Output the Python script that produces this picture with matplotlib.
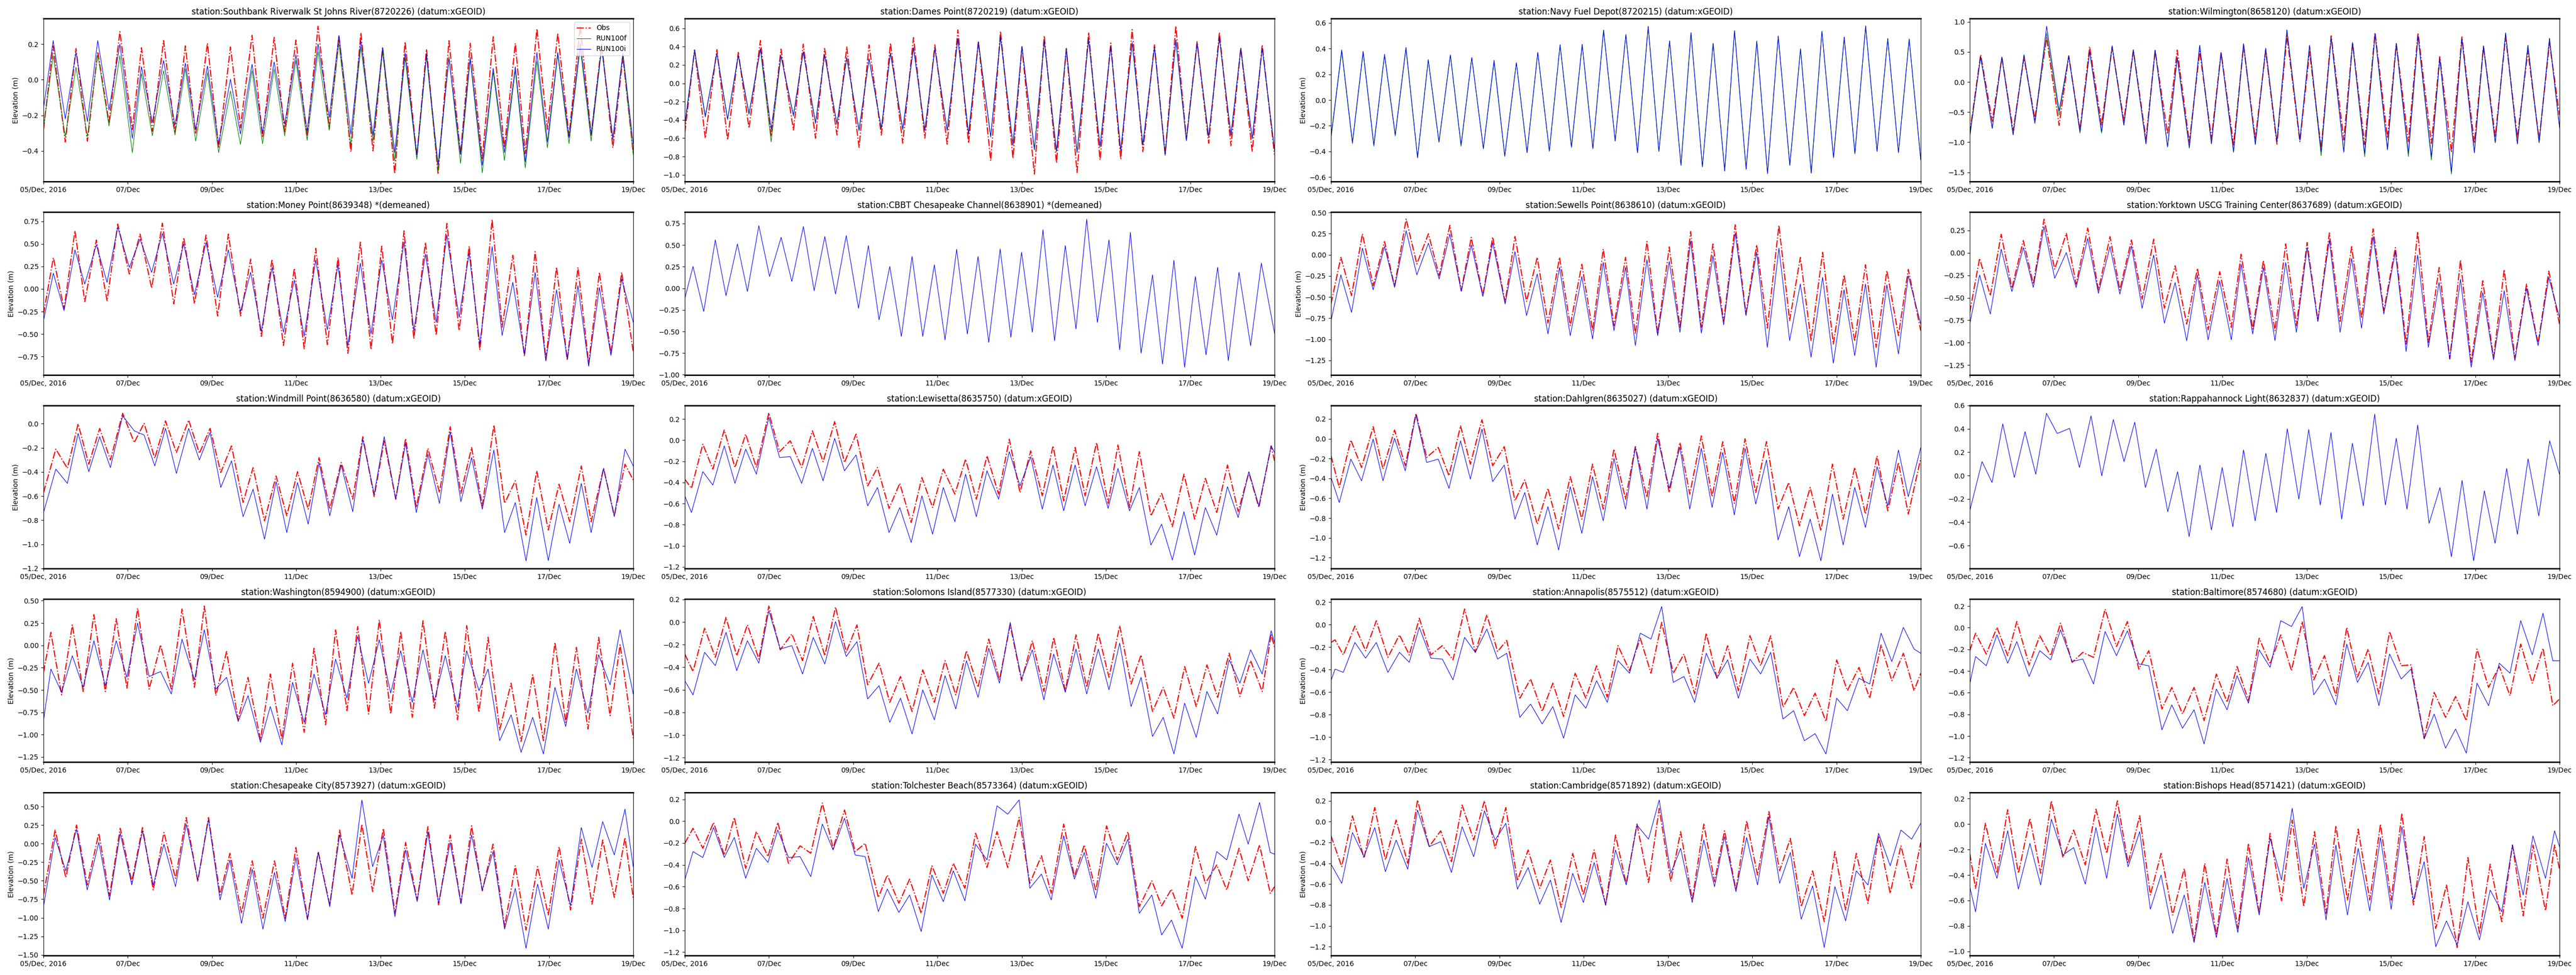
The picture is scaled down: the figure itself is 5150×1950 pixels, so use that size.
#!/usr/bin/python3
# -*- coding: UTF-8 -*-

import numpy as np
import pandas as pd
import matplotlib
matplotlib.use('Agg')
import matplotlib.pyplot as plt

# ---------------------------------------------------------------------------
# Data: tide extremes (highs/lows), hours after
# 05/Dec/2016 00:00.  obs = Obs, f = RUN100f, i = RUN100i
# ---------------------------------------------------------------------------
start_date = pd.Timestamp('2016-12-05')
tick_dates = ['2016-12-05', '2016-12-07', '2016-12-09', '2016-12-11',
              '2016-12-13', '2016-12-15', '2016-12-17', '2016-12-19']
tick_labels = ['05/Dec, 2016', '07/Dec', '09/Dec', '11/Dec', '13/Dec',
               '15/Dec', '17/Dec', '19/Dec']

# Southbank Riverwalk St Johns River
sb_t = [0, 5.5, 12.4, 18.5, 25.0, 30.9, 37.3, 43.5, 50.6, 55.8, 62.0, 68.4, 74.9, 80.8, 86.7,
        93.4, 99.8, 106.5, 112.2, 118.8, 124.8, 131.4, 137.4, 143.8, 150.2, 156.4, 162.8,
        168.3, 175.1, 180.8, 187.7, 193.2, 200.1, 206.0, 212.7, 218.2, 224.8, 231.0, 237.6,
        243.1, 250.0, 256.2, 262.6, 268.8, 274.5, 281.1, 287.1, 293.0, 299.4, 305.8, 312.0,
        318.0, 324.4, 330.1, 336]
sb_obs = [-0.28, 0.19, -0.35, 0.175, -0.345, 0.158, -0.24, 0.27, -0.28, 0.18, -0.29, 0.22, -0.30,
          0.19, -0.305, 0.205, -0.385, 0.184, -0.27, 0.25, -0.326, 0.238, -0.293, 0.223, -0.326,
          0.30, -0.275, 0.247, -0.405, 0.263, -0.40, 0.183, -0.528, 0.214, -0.434, 0.172, -0.532,
          0.219, -0.42, 0.205, -0.443, 0.242, -0.382, 0.205, -0.415, 0.287, -0.279, 0.261, -0.316,
          0.303, -0.312, 0.20, -0.382, 0.13, -0.415]
sb_f = [-0.27, 0.135, -0.32, 0.07, -0.32, 0.143, -0.26, 0.135, -0.41, 0.035, -0.315, 0.05, -0.31,
        0.062, -0.345, 0.04, -0.41, -0.063, -0.363, 0.05, -0.36, 0.06, -0.316, 0.108, -0.34,
        0.158, -0.284, 0.203, -0.368, 0.183, -0.345, 0.158, -0.457, 0.125, -0.448, 0.131, -0.509,
        0.13, -0.47, 0.115, -0.523, 0.045, -0.453, 0.054, -0.495, 0.104, -0.382, 0.144, -0.359,
        0.181, -0.345, 0.177, -0.336, 0.144, -0.42]
sb_i = [-0.16, 0.22, -0.22, 0.153, -0.235, 0.22, -0.17, 0.20, -0.33, 0.073, -0.24, 0.108, -0.255,
        0.093, -0.28, 0.077, -0.36, 0.003, -0.305, 0.087, -0.30, 0.10, -0.25, 0.14, -0.288,
        0.202, -0.213, 0.249, -0.307, 0.219, -0.312, 0.181, -0.41, 0.15, -0.424, 0.144, -0.476,
        0.12, -0.42, 0.127, -0.481, 0.064, -0.41, 0.073, -0.462, 0.153, -0.35, 0.153, -0.326,
        0.205, -0.307, 0.186, -0.33, 0.15, -0.36]

# Dames Point
dp_t = [0, 5.6, 11.7, 18.3, 24.4, 30.5, 36.6, 43.1, 49.2, 54.8, 61.9, 67.5, 74.5, 79.7, 86.7,
        92.3, 99.3, 105.0, 112.0, 117.2, 124.2, 130.3, 136.8, 142.5, 149.5, 155.6, 161.7,
        167.3, 174.3, 179.9, 187.0, 192.1, 199.2, 204.8, 211.8, 217.4, 223.5, 230.1, 236.6,
        242.7, 248.4, 254.9, 261.0, 267.6, 273.7, 279.8, 285.8, 291.9, 298.5, 304.6, 311.2,
        316.8, 323.3, 329.0, 336]
dp_obs = [-0.54, 0.364, -0.60, 0.368, -0.62, 0.337, -0.49, 0.468, -0.58, 0.373, -0.51, 0.428, -0.60,
          0.38, -0.565, 0.397, -0.70, 0.419, -0.565, 0.44, -0.655, 0.50, -0.60, 0.42, -0.665,
          0.583, -0.655, 0.459, -0.847, 0.568, -0.82, 0.40, -0.993, 0.519, -0.87, 0.38, -0.975,
          0.556, -0.838, 0.44, -0.83, 0.586, -0.747, 0.42, -0.78, 0.625, -0.61, 0.455, -0.655,
          0.556, -0.683, 0.386, -0.747, 0.42, -0.78]
dp_f = [-0.47, 0.35, -0.37, 0.33, -0.40, 0.30, -0.34, 0.37, -0.64, 0.30, -0.36, 0.34, -0.44,
        0.31, -0.45, 0.28, -0.52, 0.27, -0.50, 0.33, -0.51, 0.39, -0.52, 0.38, -0.52,
        0.48, -0.56, 0.45, -0.59, 0.50, -0.68, 0.40, -0.73, 0.46, -0.75, 0.38, -0.76,
        0.47, -0.70, 0.40, -0.74, 0.44, -0.68, 0.40, -0.79, 0.47, -0.63, 0.44, -0.59,
        0.49, -0.57, 0.38, -0.61, 0.38, -0.73]
dp_i = [-0.45, 0.364, -0.36, 0.33, -0.39, 0.31, -0.33, 0.38, -0.50, 0.30, -0.35, 0.346, -0.43,
        0.31, -0.44, 0.28, -0.51, 0.27, -0.49, 0.33, -0.50, 0.39, -0.51, 0.38, -0.51,
        0.49, -0.55, 0.455, -0.58, 0.51, -0.67, 0.40, -0.72, 0.464, -0.74, 0.38, -0.75,
        0.48, -0.69, 0.40, -0.73, 0.446, -0.67, 0.40, -0.78, 0.474, -0.62, 0.44, -0.58,
        0.50, -0.565, 0.38, -0.60, 0.38, -0.72]

# Navy Fuel Depot
nf_t = [0, 6.1, 12.2, 18.3, 24.4, 30.5, 36.6, 42.7, 49.3, 55.4, 61.5, 68.0, 74.1, 80.2, 86.8,
        92.9, 99.0, 105.6, 111.7, 117.8, 124.4, 130.5, 137.0, 143.1, 149.2, 155.3, 161.9,
        168.0, 174.6, 180.7, 186.8, 192.9, 199.4, 205.1, 211.6, 217.7, 224.3, 229.9, 236.5,
        242.6, 248.7, 254.8, 261.4, 267.5, 273.6, 279.7, 286.3, 292.4, 298.5, 304.6, 311.1,
        317.2, 323.3, 329.4, 336]
nf_f = [-0.30, 0.38, -0.34, 0.37, -0.36, 0.35, -0.28, 0.40, -0.45, 0.31, -0.33, 0.35, -0.36,
        0.33, -0.38, 0.30, -0.44, 0.29, -0.41, 0.37, -0.40, 0.43, -0.37, 0.43, -0.38,
        0.545, -0.32, 0.51, -0.41, 0.575, -0.40, 0.46, -0.51, 0.525, -0.52, 0.44, -0.555,
        0.54, -0.54, 0.46, -0.575, 0.50, -0.51, 0.40, -0.565, 0.535, -0.45, 0.49, -0.42,
        0.578, -0.40, 0.48, -0.41, 0.475, -0.46]
nf_i = [-0.285, 0.39, -0.33, 0.38, -0.35, 0.356, -0.27, 0.41, -0.447, 0.314, -0.324, 0.35, -0.35,
        0.33, -0.376, 0.31, -0.434, 0.29, -0.408, 0.37, -0.395, 0.43, -0.363, 0.434, -0.376,
        0.542, -0.318, 0.508, -0.41, 0.57, -0.40, 0.46, -0.505, 0.522, -0.518, 0.44, -0.55,
        0.538, -0.538, 0.456, -0.57, 0.495, -0.505, 0.395, -0.57, 0.534, -0.447, 0.49, -0.415,
        0.574, -0.40, 0.477, -0.408, 0.473, -0.467]

# Wilmington
wi_t = [0, 6.2, 12.8, 18.3, 24.7, 30.9, 37.1, 43.8, 50.9, 56.4, 62.8, 68.3, 75.1, 81.1, 87.8,
        93.2, 100.4, 105.6, 112.7, 118.2, 125.1, 131.0, 137.7, 143.2, 150.3, 156.0, 162.7,
        168.6, 175.0, 180.7, 188.1, 193.6, 200.2, 205.9, 213.1, 218.1, 225.0, 230.9, 238.0,
        243.0, 249.9, 255.4, 263.0, 267.8, 274.4, 280.4, 287.5, 292.7, 299.4, 305.3, 312.0,
        318.0, 324.4, 330.3, 336]
wi_obs = [-0.85, 0.454, -0.653, 0.407, -0.81, 0.407, -0.617, 0.74, -0.72, 0.435, -0.80, 0.587, -0.714,
          0.573, -0.645, 0.53, -0.95, 0.518, -0.867, 0.53, -1.005, 0.512, -0.936, 0.49, -1.046,
          0.60, -0.95, 0.518, -1.033, 0.767, -0.99, 0.504, -1.116, 0.767, -0.963, 0.648, -1.04,
          0.822, -0.936, 0.637, -0.99, 0.817, -1.02, 0.42, -1.17, 0.748, -1.02, 0.587, -0.914,
          0.753, -0.93, 0.518, -0.963, 0.648, -0.548]
wi_f = [-0.92, 0.42, -0.77, 0.415, -0.88, 0.45, -0.69, 0.81, -0.55, 0.435, -0.85, 0.504, -0.85,
        0.60, -0.72, 0.523, -1.03, 0.53, -1.08, 0.407, -1.10, 0.61, -1.03, 0.49, -1.17,
        0.637, -1.04, 0.56, -1.0, 0.864, -0.97, 0.61, -1.226, 0.74, -1.17, 0.656, -1.24,
        0.795, -1.13, 0.637, -1.24, 0.767, -1.296, 0.40, -1.53, 0.72, -1.18, 0.60, -1.01,
        0.814, -1.03, 0.61, -1.01, 0.725, -0.76]
wi_i = [-0.89, 0.42, -0.77, 0.415, -0.875, 0.45, -0.68, 0.927, -0.48, 0.435, -0.825, 0.504, -0.825,
        0.60, -0.71, 0.523, -1.024, 0.53, -1.074, 0.407, -1.088, 0.61, -1.02, 0.49, -1.157,
        0.637, -1.033, 0.56, -0.99, 0.864, -0.963, 0.61, -1.157, 0.74, -1.157, 0.656, -1.185,
        0.795, -1.116, 0.637, -1.185, 0.767, -1.24, 0.40, -1.49, 0.72, -1.17, 0.60, -1.005,
        0.814, -1.024, 0.61, -1.005, 0.725, -0.742]

# Money Point (demeaned)
mp_t = [0, 5.6, 11.7, 17.9, 23.5, 30.1, 36.2, 42.3, 48.9, 55.0, 61.6, 67.7, 74.2, 79.9, 86.0,
        92.6, 99.2, 105.3, 112.3, 118.0, 124.1, 130.2, 136.7, 142.9, 148.5, 155.1, 161.7,
        167.8, 173.4, 180.5, 186.6, 192.7, 198.8, 205.4, 211.0, 217.6, 223.7, 229.8, 236.8,
        242.5, 248.6, 255.6, 261.3, 267.4, 274.0, 280.1, 286.2, 292.3, 298.4, 304.5, 310.6,
        316.7, 323.3, 329.4, 336]
mp_obs = [-0.28, 0.347, -0.22, 0.646, -0.14, 0.544, -0.13, 0.72, 0.166, 0.61, 0.01, 0.73, -0.166,
          0.572, -0.162, 0.60, -0.30, 0.61, -0.30, 0.332, -0.526, 0.332, -0.627, 0.23, -0.664,
          0.452, -0.618, 0.35, -0.714, 0.52, -0.673, 0.476, -0.609, 0.646, -0.553, 0.517, -0.516,
          0.729, -0.461, 0.476, -0.679, 0.771, -0.424, 0.375, -0.747, 0.415, -0.784, 0.244, -0.793,
          0.24, -0.83, 0.185, -0.72, 0.185, -0.70]
mp_i = [-0.35, 0.175, -0.24, 0.434, 0.055, 0.49, 0.074, 0.69, 0.24, 0.553, 0.185, 0.618, 0.055,
        0.50, -0.065, 0.517, -0.092, 0.434, -0.25, 0.185, -0.47, 0.24, -0.48, 0.10, -0.526,
        0.323, -0.452, 0.268, -0.627, 0.286, -0.498, 0.323, -0.341, 0.52, -0.461, 0.387, -0.369,
        0.60, -0.314, 0.397, -0.609, 0.47, -0.516, 0.074, -0.729, 0.185, -0.80, -0.01, -0.775,
        0.037, -0.858, 0.018, -0.738, 0.11, -0.369]

# CBBT Chesapeake Channel (demeaned)
cb_t = [0, 4.7, 10.8, 17.4, 23.5, 30.0, 35.7, 42.2, 48.3, 54.9, 61.0, 67.6, 73.7, 79.8, 85.9,
        92.0, 99.0, 104.6, 110.7, 116.8, 123.4, 129.5, 135.6, 142.2, 148.3, 154.9, 161.0,
        167.1, 173.2, 179.7, 185.8, 191.9, 198.0, 204.1, 210.7, 216.8, 222.9, 229.0, 235.1,
        241.7, 247.8, 253.9, 260.0, 266.5, 272.2, 278.7, 284.8, 290.9, 297.0, 303.6, 309.7,
        315.8, 322.4, 328.5, 336]
cb_i = [-0.12, 0.253, -0.268, 0.561, -0.085, 0.513, -0.037, 0.725, 0.137, 0.59, 0.079, 0.716, -0.027,
        0.60, -0.066, 0.61, -0.23, 0.494, -0.365, 0.253, -0.557, 0.368, -0.557, 0.272, -0.596,
        0.451, -0.529, 0.368, -0.625, 0.455, -0.567, 0.417, -0.509, 0.677, -0.606, 0.494, -0.47,
        0.799, -0.394, 0.561, -0.712, 0.648, -0.75, 0.156, -0.876, 0.324, -0.914, 0.137, -0.77,
        0.243, -0.837, 0.185, -0.664, 0.291, -0.519]

# Sewells Point
sw_t = [0, 5.6, 11.7, 17.9, 24.0, 30.5, 36.2, 42.8, 48.9, 55.5, 61.6, 67.7, 74.2, 79.9, 86.5,
        92.1, 99.2, 104.8, 111.4, 117.5, 123.6, 130.2, 136.3, 142.9, 149.0, 155.1, 161.2,
        167.8, 173.4, 180.0, 186.1, 192.7, 198.8, 204.9, 211.0, 217.6, 223.7, 230.3, 236.4,
        242.5, 248.6, 255.2, 261.3, 267.4, 273.5, 280.1, 286.2, 292.3, 298.4, 304.5, 310.6,
        316.7, 323.3, 328.9, 336]
sw_obs = [-0.58, -0.03, -0.483, 0.25, -0.365, 0.158, -0.375, 0.424, -0.109, 0.25, -0.247, 0.349, -0.424,
          0.207, -0.483, 0.211, -0.562, 0.217, -0.552, -0.03, -0.809, -0.03, -0.839, -0.112, -0.898,
          0.069, -0.839, -0.03, -0.937, 0.158, -0.937, 0.093, -0.858, 0.276, -0.858, 0.128, -0.789,
          0.355, -0.70, 0.118, -0.868, 0.349, -0.779, -0.03, -1.016, 0.03, -1.056, -0.237, -1.026,
          -0.118, -1.095, -0.187, -0.957, -0.172, -0.898]
sw_i = [-0.78, -0.237, -0.681, 0.079, -0.414, 0.099, -0.385, 0.286, -0.237, 0.138, -0.286, 0.247, -0.434,
        0.118, -0.493, 0.144, -0.582, 0.039, -0.72, -0.227, -0.937, -0.148, -0.957, -0.257, -0.996,
        -0.089, -0.898, -0.148, -1.075, -0.059, -0.957, -0.079, -0.918, 0.164, -0.927, -0.01, -0.829,
        0.257, -0.72, 0.03, -1.095, 0.079, -1.016, -0.345, -1.213, -0.266, -1.283, -0.414, -1.194,
        -0.345, -1.332, -0.355, -1.174, -0.247, -0.819]

# Yorktown USCG Training Center
yt_t = [0, 5.6, 11.7, 17.9, 24.0, 30.5, 36.2, 42.3, 48.4, 55.0, 60.6, 67.2, 73.3, 79.9, 85.5,
        92.1, 98.2, 104.8, 110.9, 117.0, 123.6, 129.7, 135.8, 142.4, 149.0, 154.6, 161.2,
        167.3, 173.9, 180.0, 186.1, 192.2, 198.3, 204.9, 211.0, 217.6, 223.2, 229.8, 235.9,
        242.5, 248.6, 255.2, 261.3, 267.4, 273.5, 279.6, 285.7, 292.3, 298.4, 304.5, 310.6,
        317.2, 323.8, 329.9, 336]
yt_obs = [-0.663, -0.061, -0.478, 0.207, -0.394, 0.137, -0.348, 0.374, -0.181, 0.217, -0.348, 0.276, -0.413,
          0.18, -0.413, 0.143, -0.515, 0.152, -0.617, -0.144, -0.793, -0.172, -0.857, -0.209, -0.83,
          -0.015, -0.848, -0.085, -0.867, 0.10, -0.811, 0.115, -0.756, 0.222, -0.765, 0.069, -0.728,
          0.267, -0.644, 0.059, -1.015, 0.235, -0.996, -0.163, -1.181, -0.08, -1.219, -0.311, -1.172,
          -0.185, -1.172, -0.348, -1.015, -0.204, -0.793]
yt_i = [-0.793, -0.246, -0.681, 0.041, -0.431, 0.059, -0.385, 0.291, -0.283, 0.004, -0.385, 0.161, -0.45,
        0.069, -0.459, 0.078, -0.617, -0.024, -0.783, -0.33, -0.978, -0.246, -0.969, -0.311, -0.969,
        -0.126, -0.904, -0.163, -0.978, -0.107, -0.885, 0.059, -0.765, 0.143, -0.885, -0.061, -0.839,
        0.18, -0.681, 0.013, -1.098, -0.024, -1.052, -0.33, -1.181, -0.293, -1.274, -0.441, -1.191,
        -0.422, -1.20, -0.394, -1.033, -0.274, -0.719]

# Windmill Point
wm_t = [0, 7.0, 13.6, 19.7, 25.8, 32.0, 38.1, 45.1, 51.7, 57.3, 63.4, 69.5, 75.7, 82.7, 88.8,
        94.9, 101.0, 107.1, 113.7, 119.4, 125.9, 132.5, 138.6, 144.7, 150.8, 157.0, 163.1,
        169.6, 176.2, 181.9, 188.4, 194.1, 200.7, 206.3, 212.4, 219.0, 225.6, 231.7, 237.8,
        243.9, 250.0, 256.6, 262.7, 268.8, 274.9, 281.0, 287.6, 293.7, 299.8, 306.4, 312.0,
        319.1, 325.2, 331.3, 336]
wm_obs = [-0.571, -0.211, -0.37, -0.001, -0.336, -0.039, -0.301, 0.086, -0.156, 0.003, -0.287, 0.023, -0.239,
          0.03, -0.246, -0.039, -0.405, -0.184, -0.654, -0.364, -0.806, -0.433, -0.764, -0.398, -0.709,
          -0.281, -0.709, -0.322, -0.626, -0.108, -0.605, -0.142, -0.626, -0.122, -0.695, -0.205, -0.571,
          -0.025, -0.578, -0.198, -0.681, -0.011, -0.661, -0.474, -0.923, -0.391, -0.882, -0.502, -0.813,
          -0.35, -0.813, -0.37, -0.764, -0.336, -0.467]
wm_i = [-0.737, -0.377, -0.495, -0.08, -0.398, -0.108, -0.364, 0.065, -0.059, -0.094, -0.35, -0.039, -0.412,
        -0.039, -0.301, -0.073, -0.529, -0.308, -0.771, -0.543, -0.958, -0.481, -0.903, -0.488, -0.833,
        -0.322, -0.764, -0.343, -0.73, -0.129, -0.585, -0.108, -0.626, -0.163, -0.737, -0.253, -0.661,
        -0.066, -0.647, -0.281, -0.709, -0.218, -0.903, -0.654, -1.138, -0.612, -1.135, -0.668, -0.992,
        -0.495, -0.903, -0.37, -0.771, -0.211, -0.35]

# Lewisetta
lw_t = [0, 3.8, 10.3, 16.0, 22.5, 28.6, 34.7, 40.8, 47.9, 54.0, 60.1, 66.6, 72.7, 78.8, 85.4,
        91.0, 97.6, 104.2, 109.8, 116.4, 122.5, 129.0, 135.1, 141.2, 147.3, 153.9, 160.0,
        166.1, 172.2, 178.8, 184.9, 191.0, 197.1, 203.7, 209.8, 215.9, 222.4, 228.1, 234.6,
        241.2, 246.8, 253.4, 259.0, 265.6, 271.7, 277.8, 284.4, 290.5, 296.6, 303.1, 309.2,
        315.3, 321.4, 327.1, 334.1, 336]
lw_obs = [-0.369, -0.456, -0.038, -0.275, 0.096, -0.259, 0.057, -0.259, 0.259, -0.109, -0.006, -0.259,
          0.088, -0.204, 0.175, -0.212, 0.057, -0.433, -0.259, -0.646, -0.409, -0.78, -0.354, -0.638,
          -0.275, -0.511, -0.18, -0.559, -0.148, -0.511, 0.009, -0.496, -0.101, -0.527, -0.054, -0.575,
          -0.069, -0.527, -0.022, -0.598, -0.046, -0.638, -0.109, -0.717, -0.504, -0.819, -0.322, -0.748,
          -0.361, -0.685, -0.235, -0.677, -0.306, -0.638, -0.054, -0.196]
lw_i = [-0.527, -0.685, -0.298, -0.425, -0.054, -0.409, -0.085, -0.322, 0.215, -0.164, -0.156, -0.409,
        -0.077, -0.385, 0.017, -0.29, -0.14, -0.622, -0.448, -0.875, -0.638, -0.969, -0.527, -0.89,
        -0.448, -0.772, -0.322, -0.725, -0.29, -0.559, -0.109, -0.433, -0.156, -0.654, -0.235, -0.669,
        -0.235, -0.622, -0.251, -0.646, -0.267, -0.669, -0.448, -0.993, -0.796, -1.135, -0.677, -1.088,
        -0.638, -0.899, -0.44, -0.733, -0.298, -0.622, -0.054, -0.117]

# Dahlgren
dg_t = [0, 4.7, 11.3, 17.4, 24.0, 29.6, 36.2, 42.3, 48.4, 54.5, 61.1, 67.2, 73.8, 79.4, 86.0,
        92.1, 98.7, 104.8, 110.4, 117.5, 123.6, 129.7, 136.3, 142.9, 149.0, 155.1, 161.2,
        167.8, 173.4, 180.0, 186.1, 192.7, 198.8, 204.4, 211.0, 217.1, 223.2, 229.8, 235.9,
        242.0, 248.1, 254.7, 260.8, 266.9, 273.0, 279.1, 285.7, 291.8, 298.4, 304.5, 311.1,
        317.2, 323.3, 328.9, 336]
dg_obs = [-0.172, -0.491, -0.012, -0.29, 0.123, -0.306, 0.089, -0.272, 0.257, -0.188, -0.087, -0.373,
          0.131, -0.256, 0.193, -0.272, -0.079, -0.626, -0.415, -0.861, -0.50, -0.912, -0.382, -0.811,
          -0.256, -0.71, -0.104, -0.609, -0.079, -0.592, 0.056, -0.542, -0.037, -0.558, 0.03, -0.584,
          -0.029, -0.651, 0.0, -0.542, -0.029, -0.71, -0.441, -0.878, -0.491, -0.929, -0.256, -0.811,
          -0.289, -0.76, -0.172, -0.727, -0.239, -0.76, -0.197]
dg_i = [-0.39, -0.643, -0.205, -0.424, -0.003, -0.424, 0.005, -0.323, 0.241, -0.239, -0.205, -0.50,
        -0.02, -0.407, 0.098, -0.432, -0.264, -0.811, -0.542, -1.071, -0.685, -1.122, -0.483, -0.954,
        -0.382, -0.828, -0.197, -0.71, -0.087, -0.71, 0.005, -0.50, -0.087, -0.71, -0.096, -0.693,
        -0.138, -0.769, -0.096, -0.659, -0.214, -1.021, -0.685, -1.189, -0.811, -1.231, -0.558, -1.071,
        -0.491, -0.895, -0.281, -0.676, -0.113, -0.584, -0.09]

# Rappahannock Light
rp_t = [0, 7.0, 12.7, 18.8, 25.4, 31.5, 37.6, 43.7, 49.8, 56.9, 62.5, 69.1, 75.2, 81.8, 87.9,
        94.0, 100.1, 106.2, 112.8, 118.4, 125.0, 131.1, 137.7, 143.8, 149.9, 156.0, 162.6,
        168.7, 174.8, 180.9, 187.5, 193.1, 199.7, 205.8, 211.9, 218.0, 224.2, 230.7, 236.8,
        243.0, 249.1, 255.2, 261.7, 267.9, 274.4, 280.5, 287.1, 293.2, 299.3, 305.9, 312.0,
        318.1, 324.2, 330.4, 336]
rp_i = [-0.303, 0.119, -0.06, 0.443, -0.017, 0.376, 0.011, 0.533, 0.36, 0.404, 0.069, 0.511, -0.003,
        0.48, 0.119, 0.457, -0.103, 0.226, -0.31, 0.033, -0.524, 0.09, -0.467, 0.069, -0.439,
        0.219, -0.389, 0.19, -0.317, 0.4, -0.203, 0.394, -0.253, 0.369, -0.374, 0.276, -0.26,
        0.526, -0.253, 0.319, -0.289, 0.433, -0.41, -0.103, -0.696, -0.043, -0.731, -0.131, -0.581,
        0.061, -0.503, 0.143, -0.346, 0.297, 0.011]

# Washington
wa_t = [0, 4.2, 10.3, 16.4, 22.6, 28.7, 35.2, 41.4, 47.5, 53.6, 60.2, 66.7, 72.8, 78.9, 86.0,
        91.6, 98.2, 104.3, 110.9, 116.5, 123.6, 129.2, 135.8, 141.9, 148.5, 154.1, 160.7,
        166.4, 172.9, 179.0, 185.2, 191.3, 197.8, 203.5, 210.1, 216.2, 222.7, 228.9, 235.9,
        241.1, 248.1, 253.3, 259.9, 266.4, 272.1, 278.7, 284.8, 291.4, 297.5, 303.6, 310.2,
        316.3, 322.8, 328.5, 336]
wa_obs = [-0.302, 0.146, -0.554, 0.229, -0.517, 0.345, -0.517, 0.299, -0.479, 0.416, -0.489, 0.006, -0.489,
          0.407, -0.47, 0.44, -0.563, -0.069, -0.834, -0.358, -1.058, -0.321, -1.049, -0.20, -0.974,
          -0.032, -0.89, 0.174, -0.731, 0.211, -0.769, 0.285, -0.769, 0.155, -0.806, 0.276, -0.703,
          0.155, -0.834, 0.22, -0.75, 0.09, -0.946, -0.424, -1.076, -0.33, -1.067, 0.034, -0.862,
          -0.022, -0.937, 0.09, -0.787, 0.006, -1.039]
wa_i = [-0.843, -0.265, -0.526, -0.116, -0.47, 0.052, -0.451, 0.052, -0.358, 0.248, -0.349, -0.293, -0.545,
        0.071, -0.386, 0.174, -0.489, -0.358, -0.853, -0.563, -1.086, -0.685, -1.114, -0.414, -0.862,
        -0.321, -0.778, -0.153, -0.591, 0.099, -0.424, 0.062, -0.535, -0.06, -0.638, -0.05, -0.619,
        -0.116, -0.694, -0.06, -0.507, -0.265, -1.067, -0.778, -1.198, -0.806, -1.216, -0.47, -0.909,
        -0.265, -0.759, -0.106, -0.442, 0.174, -0.545]

# Solomons Island
si_t = [0, 4.7, 11.3, 17.4, 23.5, 29.6, 35.7, 42.2, 47.9, 54.4, 61.0, 67.1, 73.2, 79.8, 85.9,
        92.0, 98.1, 104.2, 110.7, 116.8, 122.9, 129.5, 135.6, 142.2, 148.3, 154.4, 160.5,
        167.1, 173.2, 179.3, 185.4, 191.9, 198.0, 204.6, 210.2, 216.8, 222.9, 229.0, 235.6,
        241.7, 247.8, 254.3, 260.0, 266.5, 272.6, 278.7, 284.8, 291.4, 297.5, 303.6, 310.2,
        316.3, 322.4, 329.0, 334.1, 336]
si_obs = [-0.283, -0.438, -0.055, -0.313, 0.041, -0.298, -0.025, -0.327, 0.142, -0.246, -0.106, -0.342,
          0.049, -0.298, 0.133, -0.268, -0.025, -0.556, -0.364, -0.711, -0.482, -0.792, -0.423, -0.711,
          -0.342, -0.645, -0.254, -0.578, -0.15, -0.512, -0.025, -0.519, -0.165, -0.615, -0.136, -0.608,
          -0.114, -0.578, -0.099, -0.49, -0.032, -0.549, -0.291, -0.792, -0.578, -0.851, -0.394, -0.748,
          -0.379, -0.667, -0.276, -0.659, -0.342, -0.615, -0.106, -0.224]
si_i = [-0.519, -0.645, -0.268, -0.386, -0.091, -0.431, -0.165, -0.364, 0.10, -0.239, -0.209, -0.46,
        -0.136, -0.372, 0.004, -0.305, -0.173, -0.681, -0.563, -0.888, -0.674, -0.991, -0.60, -0.866,
        -0.475, -0.77, -0.342, -0.667, -0.232, -0.541, -0.003, -0.504, -0.246, -0.689, -0.283, -0.622,
        -0.239, -0.637, -0.239, -0.60, -0.187, -0.748, -0.49, -1.013, -0.844, -1.168, -0.718, -1.021,
        -0.615, -0.814, -0.335, -0.541, -0.246, -0.46, -0.077, -0.18]

# Annapolis
an_t = [0, 2.3, 7.0, 13.6, 19.7, 25.8, 32.4, 39.0, 44.6, 50.3, 56.9, 63.4, 69.5, 76.1, 82.2,
        88.8, 94.9, 100.1, 107.6, 113.7, 120.3, 126.4, 132.5, 139.1, 145.2, 151.3, 157.4,
        163.5, 170.1, 176.2, 182.3, 188.4, 195.0, 201.1, 207.2, 213.8, 219.9, 226.0, 232.1,
        238.7, 244.8, 250.5, 257.5, 263.6, 269.7, 275.8, 282.0, 288.1, 294.2, 300.8, 306.9,
        313.4, 319.5, 326.1, 332.2, 336]
an_obs = [-0.159, -0.136, -0.27, -0.013, -0.233, 0.034, -0.292, -0.092, -0.27, 0.056, -0.27, -0.188, -0.314,
          0.138, -0.247, 0.086, -0.24, -0.141, -0.655, -0.484, -0.773, -0.521, -0.818, -0.433, -0.655,
          -0.366, -0.647, -0.188, -0.41, -0.121, -0.433, 0.019, -0.433, -0.262, -0.618, -0.077, -0.477,
          -0.188, -0.588, -0.099, -0.366, -0.099, -0.736, -0.559, -0.81, -0.61, -0.862, -0.314, -0.588,
          -0.381, -0.655, -0.181, -0.499, -0.255, -0.588, -0.433]
an_i = [-0.499, -0.396, -0.425, -0.159, -0.299, -0.159, -0.425, -0.247, -0.336, -0.025, -0.299, -0.307, -0.492,
        -0.114, -0.247, -0.04, -0.307, -0.255, -0.825, -0.707, -0.884, -0.729, -1.01, -0.625, -0.744,
        -0.499, -0.692, -0.321, -0.433, -0.077, -0.129, 0.16, -0.514, -0.462, -0.692, -0.255, -0.477,
        -0.314, -0.655, -0.307, -0.44, -0.247, -0.84, -0.766, -1.033, -0.97, -1.151, -0.655, -0.766,
        -0.477, -0.529, -0.077, -0.329, -0.025, -0.218, -0.255]

# Baltimore
bm_t = [0, 3.3, 9.4, 15.5, 21.6, 26.8, 33.8, 39.9, 46.1, 51.7, 58.3, 64.4, 70.5, 77.1, 83.6,
        89.8, 96.3, 102.0, 109.5, 115.1, 121.2, 127.8, 133.5, 140.5, 146.6, 152.3, 158.8,
        164.9, 171.1, 177.2, 183.3, 189.4, 196.0, 202.1, 208.6, 214.8, 220.9, 227.0, 233.1,
        239.2, 245.8, 251.4, 258.9, 264.6, 271.1, 276.8, 282.9, 289.0, 295.6, 301.7, 307.8,
        313.9, 320.5, 326.6, 332.2, 336]
bm_obs = [-0.212, -0.051, -0.243, 0.003, -0.258, 0.057, -0.343, -0.074, -0.258, 0.042, -0.32, -0.228, -0.274,
          0.172, -0.174, 0.057, -0.382, -0.212, -0.751, -0.551, -0.797, -0.551, -0.858, -0.428, -0.689,
          -0.358, -0.674, -0.097, -0.335, -0.066, -0.397, 0.057, -0.482, -0.258, -0.628, 0.003, -0.458,
          -0.197, -0.612, -0.035, -0.351, -0.343, -1.02, -0.597, -0.828, -0.635, -0.858, -0.197, -0.551,
          -0.358, -0.628, -0.151, -0.512, -0.189, -0.72, -0.658]
bm_i = [-0.52, -0.266, -0.351, -0.066, -0.328, -0.128, -0.451, -0.212, -0.297, -0.02, -0.312, -0.289, -0.52,
        -0.035, -0.258, -0.028, -0.335, -0.351, -0.943, -0.712, -0.928, -0.758, -1.074, -0.566, -0.758,
        -0.443, -0.697, -0.205, -0.366, 0.065, 0.011, 0.195, -0.62, -0.474, -0.712, -0.151, -0.505,
        -0.32, -0.72, -0.243, -0.474, -0.382, -1.028, -0.797, -1.112, -0.935, -1.158, -0.512, -0.72,
        -0.328, -0.42, 0.065, -0.251, 0.134, -0.305, -0.305]

# Chesapeake City
cc_t = [0, 6.6, 12.7, 18.8, 24.9, 31.5, 37.6, 43.7, 50.3, 56.4, 62.5, 68.6, 75.2, 81.3, 87.9,
        94.0, 100.6, 106.2, 112.8, 118.9, 125.0, 131.6, 137.7, 143.8, 150.4, 156.5, 163.1,
        168.7, 175.8, 181.4, 187.5, 193.6, 200.2, 206.3, 212.9, 219.0, 225.1, 231.7, 237.8,
        243.9, 250.0, 256.1, 262.7, 268.8, 274.9, 281.5, 287.6, 293.7, 300.3, 306.4, 312.5,
        318.6, 325.2, 331.3, 336]
cc_obs = [-0.692, 0.184, -0.456, 0.252, -0.558, 0.139, -0.704, 0.207, -0.513, 0.218, -0.625, 0.151, -0.468,
          0.353, -0.513, 0.353, -0.692, -0.13, -0.94, -0.232, -1.007, -0.232, -1.007, -0.052, -1.007,
          -0.108, -0.827, 0.184, -0.692, 0.263, -0.647, 0.207, -0.94, 0.016, -0.76, 0.229, -0.827,
          0.117, -0.805, 0.241, -0.636, -0.007, -1.12, -0.299, -1.165, -0.31, -0.962, -0.04, -0.895,
          0.061, -0.816, 0.049, -0.726, 0.083, -0.737]
cc_i = [-0.85, 0.083, -0.366, 0.196, -0.625, 0.016, -0.76, 0.139, -0.558, 0.173, -0.558, -0.007, -0.58,
        0.263, -0.49, 0.33, -0.76, -0.22, -1.075, -0.344, -1.153, -0.389, -1.052, -0.187, -1.03,
        -0.119, -0.85, 0.117, -0.468, 0.589, -0.31, 0.106, -0.985, -0.085, -0.782, 0.151, -0.805,
        0.016, -0.805, 0.117, -0.625, -0.108, -1.153, -0.603, -1.412, -0.546, -1.153, -0.22, -0.839,
        0.218, -0.321, 0.297, -0.153, 0.465, -0.31]

# Tolchester Beach
tb_t = [0, 4.7, 10.3, 16.4, 22.5, 28.2, 34.7, 40.8, 47.4, 53.0, 59.1, 65.7, 71.8, 78.4, 84.5,
        91.0, 97.1, 102.8, 110.3, 115.4, 122.0, 128.1, 134.7, 140.8, 147.3, 153.0, 159.6,
        165.7, 172.2, 177.9, 184.0, 190.5, 196.6, 203.2, 208.8, 215.9, 222.0, 227.6, 234.2,
        240.3, 246.4, 252.5, 259.0, 266.1, 271.7, 277.3, 283.4, 291.0, 296.6, 303.1, 308.8,
        315.8, 321.0, 327.5, 333.6, 336]
tb_obs = [-0.203, -0.066, -0.249, -0.012, -0.31, 0.034, -0.432, -0.096, -0.325, -0.012, -0.386, -0.226, -0.294,
          0.166, -0.249, 0.102, -0.279, -0.203, -0.699, -0.493, -0.752, -0.531, -0.844, -0.409, -0.661,
          -0.386, -0.615, -0.111, -0.424, -0.096, -0.424, 0.034, -0.569, -0.317, -0.661, -0.027, -0.508,
          -0.218, -0.638, -0.043, -0.355, -0.096, -0.783, -0.546, -0.775, -0.622, -0.889, -0.233, -0.569,
          -0.401, -0.63, -0.249, -0.546, -0.218, -0.661, -0.60]
tb_i = [-0.539, -0.279, -0.333, -0.058, -0.333, -0.149, -0.523, -0.249, -0.378, -0.081, -0.333, -0.325, -0.508,
        -0.027, -0.264, 0.026, -0.31, -0.325, -0.828, -0.622, -0.836, -0.676, -1.011, -0.493, -0.737,
        -0.455, -0.729, -0.211, -0.355, 0.14, 0.064, 0.194, -0.615, -0.485, -0.722, -0.134, -0.531,
        -0.287, -0.706, -0.203, -0.401, -0.165, -0.844, -0.676, -1.042, -0.905, -1.164, -0.508, -0.714,
        -0.279, -0.355, 0.064, -0.211, 0.171, -0.287, -0.302]

# Cambridge
cm_t = [0, 6.1, 12.2, 18.8, 24.9, 31.0, 37.1, 43.7, 49.3, 55.9, 62.5, 68.6, 74.7, 81.3, 87.4,
        93.5, 99.6, 106.2, 112.3, 118.9, 125.0, 131.1, 137.7, 143.8, 149.9, 156.5, 162.1,
        168.2, 174.3, 180.9, 187.0, 193.6, 199.2, 205.8, 212.4, 218.5, 224.2, 230.7, 236.8,
        243.0, 249.5, 255.6, 261.7, 267.9, 274.4, 281.0, 287.1, 293.2, 299.3, 305.9, 312.0,
        318.6, 324.7, 330.8, 336]
cm_obs = [-0.136, -0.432, 0.056, -0.352, 0.136, -0.368, 0.016, -0.40, 0.208, -0.24, -0.088, -0.384,
          0.16, -0.176, 0.20, -0.256, 0.136, -0.568, -0.272, -0.64, -0.368, -0.824, -0.304, -0.704,
          -0.272, -0.80, -0.128, -0.60, -0.024, -0.584, 0.128, -0.576, -0.096, -0.752, -0.024, -0.576,
          -0.088, -0.656, 0.008, -0.512, 0.096, -0.472, -0.16, -0.816, -0.472, -0.96, -0.288, -0.848,
          -0.304, -0.784, -0.136, -0.688, -0.232, -0.64, -0.20]
cm_i = [-0.408, -0.592, -0.104, -0.336, -0.056, -0.48, -0.176, -0.456, 0.112, -0.24, -0.192, -0.488,
        -0.048, -0.336, 0.104, -0.176, -0.016, -0.648, -0.44, -0.792, -0.56, -0.968, -0.496, -0.776,
        -0.392, -0.80, -0.272, -0.608, -0.032, -0.168, 0.208, -0.496, -0.256, -0.776, -0.176, -0.624,
        -0.144, -0.672, -0.152, -0.608, 0.048, -0.592, -0.296, -0.936, -0.616, -1.208, -0.624, -0.952,
        -0.472, -0.608, -0.112, -0.424, -0.08, -0.168, -0.016]

# Bishops Head
bh_t = [0, 3.3, 8.9, 15.5, 21.6, 27.7, 34.3, 40.4, 46.5, 53.1, 59.2, 65.8, 71.9, 78.0, 84.1,
        90.2, 96.8, 102.9, 109.0, 115.6, 122.2, 127.8, 133.9, 140.5, 146.6, 152.7, 158.8,
        164.9, 171.1, 177.6, 183.7, 190.3, 196.4, 203.0, 208.6, 215.2, 221.3, 227.9, 234.0,
        240.1, 246.2, 252.8, 258.9, 265.5, 271.6, 277.7, 283.8, 290.4, 296.5, 303.1, 309.2,
        315.3, 320.9, 328.0, 333.2, 336]
bh_obs = [-0.23, -0.505, 0.007, -0.387, 0.114, -0.387, 0.046, -0.387, 0.184, -0.262, -0.046, -0.321,
          0.118, -0.23, 0.184, -0.308, 0.066, -0.557, -0.23, -0.715, -0.348, -0.918, -0.308, -0.872,
          -0.275, -0.82, -0.151, -0.702, -0.072, -0.603, 0.033, -0.649, -0.059, -0.702, -0.013, -0.597,
          -0.039, -0.597, 0.0, -0.597, 0.085, -0.636, -0.098, -0.82, -0.479, -0.97, -0.262, -0.859,
          -0.315, -0.767, -0.164, -0.721, -0.164, -0.682, -0.164, -0.354]
bh_i = [-0.492, -0.689, -0.151, -0.426, -0.052, -0.511, -0.151, -0.479, 0.039, -0.243, -0.184, -0.472,
        -0.026, -0.426, 0.079, -0.335, -0.059, -0.669, -0.40, -0.859, -0.557, -0.931, -0.459, -0.892,
        -0.426, -0.852, -0.262, -0.715, -0.111, -0.439, 0.125, -0.505, -0.157, -0.754, -0.164, -0.715,
        -0.19, -0.682, -0.105, -0.669, -0.02, -0.597, -0.295, -0.964, -0.761, -0.951, -0.61, -0.911,
        -0.518, -0.689, -0.164, -0.557, -0.092, -0.426, -0.052, -0.177]

# title, times, Obs, RUN100f, RUN100i
stations = [
    ('station:Southbank Riverwalk St Johns River(8720226) (datum:xGEOID)', sb_t, sb_obs, sb_f, sb_i),
    ('station:Dames Point(8720219) (datum:xGEOID)', dp_t, dp_obs, dp_f, dp_i),
    ('station:Navy Fuel Depot(8720215) (datum:xGEOID)', nf_t, None, nf_f, nf_i),
    ('station:Wilmington(8658120) (datum:xGEOID)', wi_t, wi_obs, wi_f, wi_i),
    ('station:Money Point(8639348) *(demeaned)', mp_t, mp_obs, None, mp_i),
    ('station:CBBT Chesapeake Channel(8638901) *(demeaned)', cb_t, None, None, cb_i),
    ('station:Sewells Point(8638610) (datum:xGEOID)', sw_t, sw_obs, None, sw_i),
    ('station:Yorktown USCG Training Center(8637689) (datum:xGEOID)', yt_t, yt_obs, None, yt_i),
    ('station:Windmill Point(8636580) (datum:xGEOID)', wm_t, wm_obs, None, wm_i),
    ('station:Lewisetta(8635750) (datum:xGEOID)', lw_t, lw_obs, None, lw_i),
    ('station:Dahlgren(8635027) (datum:xGEOID)', dg_t, dg_obs, None, dg_i),
    ('station:Rappahannock Light(8632837) (datum:xGEOID)', rp_t, None, None, rp_i),
    ('station:Washington(8594900) (datum:xGEOID)', wa_t, wa_obs, None, wa_i),
    ('station:Solomons Island(8577330) (datum:xGEOID)', si_t, si_obs, None, si_i),
    ('station:Annapolis(8575512) (datum:xGEOID)', an_t, an_obs, None, an_i),
    ('station:Baltimore(8574680) (datum:xGEOID)', bm_t, bm_obs, None, bm_i),
    ('station:Chesapeake City(8573927) (datum:xGEOID)', cc_t, cc_obs, None, cc_i),
    ('station:Tolchester Beach(8573364) (datum:xGEOID)', tb_t, tb_obs, None, tb_i),
    ('station:Cambridge(8571892) (datum:xGEOID)', cm_t, cm_obs, None, cm_i),
    ('station:Bishops Head(8571421) (datum:xGEOID)', bh_t, bh_obs, None, bh_i),
]

# y limits
ylims = [(-0.572, 0.344), (-1.073, 0.708), (-0.634, 0.634), (-1.653, 1.055),
         (-0.955, 0.855), (-1.003, 0.883), (-1.423, 0.507), (-1.36, 0.455),
         (-1.201, 0.151), (-1.215, 0.328), (-1.309, 0.336), (-0.797, 0.60),
         (-1.306, 0.519), (-1.239, 0.204), (-1.222, 0.227), (-1.24, 0.265),
         (-1.509, 0.69), (-1.23, 0.262), (-1.285, 0.28), (-1.033, 0.249)]


def to_dates(t):
    return start_date + pd.to_timedelta(np.asarray(t, dtype=float), unit='h')


def draw(ax, x, v, *args, **kw):
    if v is None:
        return
    n = min(len(x), len(v))
    ax.plot(x[:n], v[:n], *args, **kw)


W, H = 5150, 1950
fig = plt.figure(figsize=(W / 100, H / 100), dpi=100)

col_left = [87, 1369, 2661, 3938]
row_top = [37, 424, 811, 1198, 1585]
ax_w, ax_h = 1179, 326

for k, (title, t, obs, f, i) in enumerate(stations):
    r, c = divmod(k, 4)
    ax = fig.add_axes([col_left[c] / W, 1 - (row_top[r] + ax_h) / H, ax_w / W, ax_h / H])
    x = to_dates(t)
    draw(ax, x, obs, 'r-.', lw=1.6, label='Obs')
    draw(ax, x, f, color='g', lw=0.8, label='RUN100f')
    draw(ax, x, i, color='b', lw=0.8, label='RUN100i')
    ax.set_title(title)
    ax.set_ylim(*ylims[k])
    ax.set_xlim(pd.Timestamp(tick_dates[0]), pd.Timestamp(tick_dates[-1]))
    ax.set_xticks(pd.to_datetime(tick_dates))
    ax.set_xticklabels(tick_labels)
    if c in (0, 2):
        ax.set_ylabel('Elevation (m)')
    ax.spines['top'].set_linewidth(2)
    ax.spines['bottom'].set_linewidth(2)
    if k == 0:
        ax.legend(loc='upper right')

fig.savefig('out.png', dpi=100)
